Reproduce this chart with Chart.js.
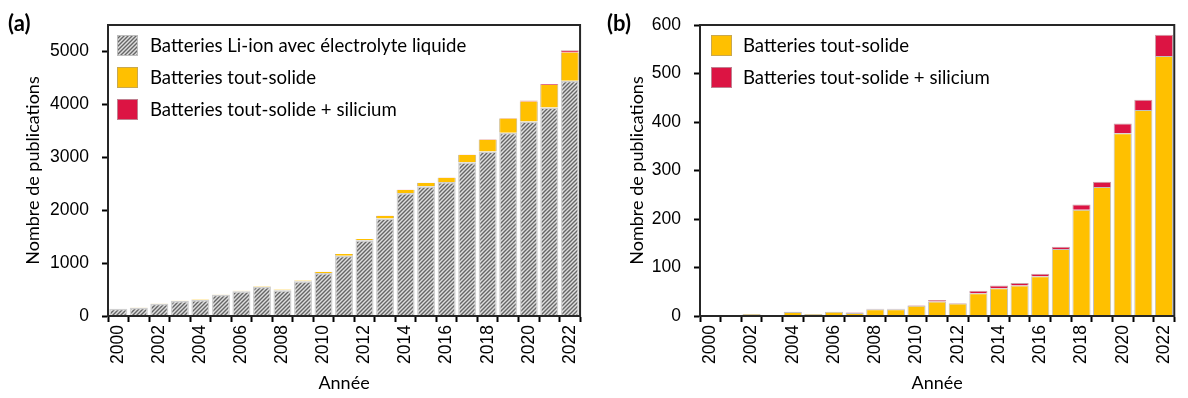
<!DOCTYPE html>
<html>
<head>
<meta charset="utf-8">
<script src="https://cdn.jsdelivr.net/npm/chart.js@4.4.1/dist/chart.umd.min.js"></script>
<style>
  body { margin: 0; background: #fff; width: 1188px; height: 398px; overflow: hidden; font-family: Lato, sans-serif; }
  .panel { position: absolute; top: 0; width: 594px; height: 398px; }
  .tag { position: absolute; top: 9px; font: bold 22px Lato, sans-serif; color: #000; }
</style>
</head>
<body>
<div class="panel" style="left:0"><canvas id="chartA" width="594" height="398"></canvas></div>
<div class="panel" style="left:594px"><canvas id="chartB" width="594" height="398"></canvas></div>
<div class="tag" style="left:8px">(a)</div>
<div class="tag" style="left:607px">(b)</div>
<script>
const years = ['2000','2001','2002','2003','2004','2005','2006','2007','2008','2009','2010','2011',
               '2012','2013','2014','2015','2016','2017','2018','2019','2020','2021','2022'];

// publications per year
const liIon = [135, 158, 230, 285, 302, 400, 466, 555, 485, 655, 812, 1140,
               1430, 1845, 2325, 2450, 2533, 2905, 3110, 3465, 3675, 3940, 4445];
const toutSolide = [0, 1, 4, 2, 8, 4, 9, 6, 14, 14, 21, 30,
                    26, 47, 57, 63, 82, 138, 219, 266, 377, 425, 536];
const toutSolideSi = [0, 0, 0, 0, 1, 0, 0, 1, 1, 1, 1, 3,
                      1, 5, 6, 5, 5, 5, 11, 11, 20, 21, 44];

// y axis ticks
const ticksA = [0, 1000, 2000, 3000, 4000, 5000];
const ticksB = [0, 100, 200, 300, 400, 500, 600];

const labelLiIon = 'Batteries Li-ion avec électrolyte liquide';
const labelSolide = 'Batteries tout-solide';
const labelSilicium = 'Batteries tout-solide + silicium';

const ORANGE = '#FFC000';
const RED = '#DC1443';
const FONT = 'Lato';
const TICK_FONT = { family: 'Liberation Sans', size: 17.5 };

// diagonal hatch used for the Li-ion bars
function makeHatch() {
  const c = document.createElement('canvas');
  c.width = 4; c.height = 4;
  const g = c.getContext('2d');
  g.fillStyle = '#dedede';
  g.fillRect(0, 0, 4, 4);
  g.strokeStyle = '#666';
  g.lineWidth = 1.4;
  g.beginPath();
  g.moveTo(0, 4); g.lineTo(4, 0);
  g.moveTo(-1, 1); g.lineTo(1, -1);
  g.moveTo(3, 5); g.lineTo(5, 3);
  g.stroke();
  return g.createPattern(c, 'repeat');
}

// closes the plot box on top and right
const frame = {
  id: 'frame',
  afterDraw(chart) {
    const { ctx, chartArea: a } = chart;
    ctx.save();
    ctx.strokeStyle = '#262626';
    ctx.lineWidth = 2;
    ctx.strokeRect(a.left, a.top, a.right - a.left, a.bottom - a.top);
    ctx.restore();
  }
};

// legend drawn inside the plot box, top-left
const insideLegend = {
  id: 'insideLegend',
  afterDatasetsDraw(chart, args, opts) {
    const { ctx, chartArea } = chart;
    ctx.save();
    ctx.font = '18.6px ' + FONT;
    ctx.textBaseline = 'middle';
    chart.data.datasets.forEach((ds, i) => {
      const x = chartArea.left + opts.x;
      const y = chartArea.top + opts.y + i * opts.rowHeight;
      ctx.fillStyle = ds.backgroundColor;
      ctx.fillRect(x, y, 21, 21);
      ctx.strokeStyle = ds.legendBorder;
      ctx.lineWidth = 1;
      ctx.strokeRect(x + 0.5, y + 0.5, 20, 20);
      ctx.fillStyle = '#000';
      ctx.fillText(ds.label, x + opts.textGap, y + 11);
    });
    ctx.restore();
  }
};

function makeOptions(yTicks, yMax, yWidth, yTitlePad, rightPad, legendX, textGap) {
  return {
    responsive: false,
    animation: false,
    layout: { padding: { top: 25, right: rightPad, left: 0, bottom: 0 } },
    plugins: {
      legend: { display: false },
      tooltip: { enabled: false },
      insideLegend: { x: legendX, y: 10, rowHeight: 32, textGap: textGap }
    },
    scales: {
      x: {
        stacked: true,
        afterFit(scale) { scale.height = 82; },
        grid: { drawOnChartArea: false, drawTicks: true, tickLength: 6, tickColor: '#000', tickWidth: 2, offset: true },
        border: { display: true, color: '#000', width: 2 },
        ticks: {
          autoSkip: false, maxRotation: 90, minRotation: 90, padding: 3,
          color: '#000', font: TICK_FONT,
          callback: (v, i) => (i % 2 === 0 ? years[i] : '')
        },
        title: { display: true, text: 'Année', color: '#000', font: { family: FONT, size: 18 }, padding: { top: 0, bottom: 4 } }
      },
      y: {
        stacked: true,
        min: 0, max: yMax,
        afterFit(scale) { scale.width = yWidth; },
        afterBuildTicks(scale) { scale.ticks = yTicks.map(v => ({ value: v })); },
        grid: { drawOnChartArea: false, drawTicks: true, tickLength: 6, tickColor: '#000', tickWidth: 2 },
        border: { display: true, color: '#000', width: 2 },
        ticks: { padding: 13, color: '#000', font: TICK_FONT, callback: v => String(v) },
        title: { display: true, text: 'Nombre de publications', color: '#000', font: { family: FONT, size: 18 }, padding: { top: yTitlePad, bottom: 0 } }
      }
    }
  };
}

const barOpts = { barPercentage: 0.88, categoryPercentage: 1.0, borderSkipped: false };
// side outlines only, so stacked segments meet without a seam
const sideBorder = { left: 1, right: 1, top: 0, bottom: 0 };
const capBorder = { left: 1, right: 1, top: 1, bottom: 0 };

new Chart(document.getElementById('chartA'), {
  type: 'bar',
  data: {
    labels: years,
    datasets: [
      { label: labelLiIon, data: liIon, backgroundColor: makeHatch(), borderColor: '#d0d0d0', legendBorder: '#bdbdbd',
        borderWidth: { left: 1.5, right: 1.5, top: 1.5, bottom: 0 }, ...barOpts },
      { label: labelSolide, data: toutSolide, backgroundColor: ORANGE, borderColor: '#c8b27a', legendBorder: '#c8a850',
        borderWidth: sideBorder, ...barOpts },
      { label: labelSilicium, data: toutSolideSi, backgroundColor: RED, borderColor: '#c9a0a8', legendBorder: '#c08090',
        borderWidth: capBorder, ...barOpts }
    ]
  },
  options: makeOptions(ticksA, 5500, 108, 22, 9, 9, 33),
  plugins: [frame, insideLegend]
});

new Chart(document.getElementById('chartB'), {
  type: 'bar',
  data: {
    labels: years,
    datasets: [
      { label: labelSolide, data: toutSolide, backgroundColor: ORANGE, borderColor: '#c0c0c0', legendBorder: '#c8a850',
        borderWidth: { left: 1, right: 1, top: 1, bottom: 0 }, ...barOpts },
      { label: labelSilicium, data: toutSolideSi, backgroundColor: RED, borderColor: '#c9a0a8', legendBorder: '#c08090',
        borderWidth: capBorder, ...barOpts }
    ]
  },
  options: makeOptions(ticksB, 600, 106, 32, 2, 11, 32),
  plugins: [frame, insideLegend]
});
</script>
</body>
</html>
